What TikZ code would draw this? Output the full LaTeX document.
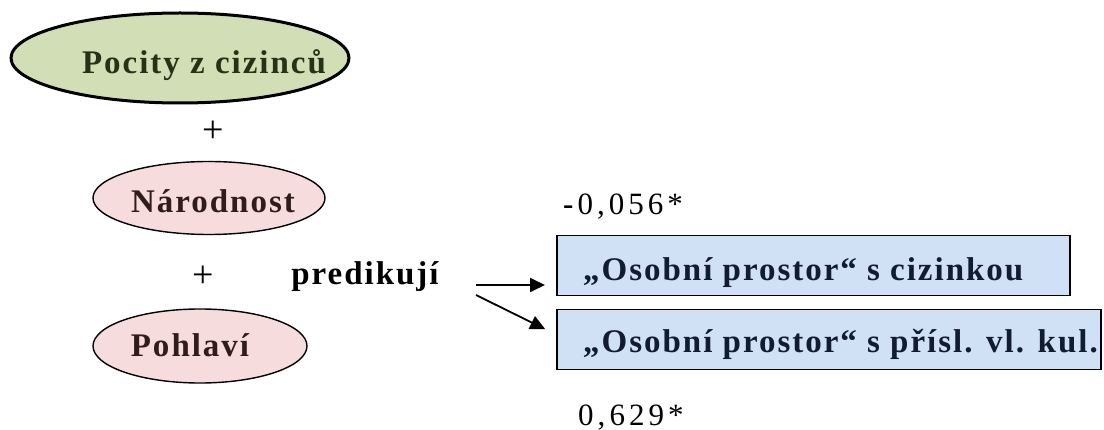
\documentclass[tikz,border=0pt]{standalone}
\usepackage{fontspec}
\setmainfont{Liberation Serif}
\newfontfamily\spaced[LetterSpace=6]{Liberation Serif}
\newfontfamily\numspaced[LetterSpace=13]{Liberation Serif}
\usetikzlibrary{shapes.geometric}
\usetikzlibrary{arrows.meta}
\definecolor{feelfill}{RGB}{210,223,182}
\definecolor{feeltext}{RGB}{38,50,22}
\definecolor{pinkfill}{RGB}{246,220,220}
\definecolor{pinktext}{RGB}{48,28,28}
\definecolor{bluefill}{RGB}{208,224,245}
\definecolor{bluetext}{RGB}{18,28,48}
\tikzset{feel/.style={ellipse, draw=black, line width=3pt, fill=feelfill, minimum width=338pt, minimum height=90pt, inner sep=0pt},
pred/.style={ellipse, draw=black, line width=1.4pt, fill=pinkfill, inner sep=0pt},
outbox/.style={rectangle, draw=black, line width=1.6pt, fill=bluefill, anchor=west, minimum height=60pt, inner xsep=0pt, inner ysep=0pt},
boldlab/.style={font=\spaced\bfseries\fontsize{33}{40}\selectfont, anchor=base, inner sep=0pt},
plain/.style={font=\numspaced\fontsize{31}{37}\selectfont, anchor=base, inner sep=0pt},
plus/.style={font=\fontsize{38}{44}\selectfont, anchor=base, inner sep=0pt},
arr/.style={-{Triangle[length=15pt,width=14pt]}, line width=1.8pt}}

\begin{document}
\begin{tikzpicture}[x=1pt,y=-1pt]
\useasboundingbox (0,0) rectangle (1104,430);
% predictors
\node[feel] (pocity) at (180,58) {};
\node[boldlab, text=feeltext] (pocitytext) at (204,74) {Pocity z cizinců};
\node[pred, minimum width=232pt, minimum height=73pt] (narod) at (209,198) {};
\node[boldlab, text=pinktext] (narodtext) at (213,213) {Národnost};
\node[pred, minimum width=214pt, minimum height=74pt] (pohl) at (200,346) {};
\node[boldlab, text=pinktext] (pohltext) at (190,357) {Pohlaví};

%labels
\node[plus] (plus1) at (213,143) {+};
\node[plus] (plus2) at (203,288) {+};
\node[boldlab] (predik) at (365,285) {predikují};

% outcomes
\node[outbox, minimum width=513pt] (ocizi) at (556,265.5) {};
\node[boldlab, anchor=base west, text=bluetext] (ocizitext) at (583,281) {„Osobní prostor“ s cizinkou};
\node[outbox, minimum width=544pt] (oprisl) at (556,339.5) {};
\node[boldlab, anchor=base west, text=bluetext] (oprisltext) at (583,353) {„Osobní prostor“ s přísl. vl. kul.};
\node[plain, anchor=base west] (coef1) at (563,215) {\textbf{-}0,056*};
\node[plain, anchor=base west] (coef2) at (578,425) {0,629*};

\coordinate (s1) at (476,285);
\coordinate (s2) at (476,295);
\draw[arr, shorten >=11pt] (s1) -- (s1 -| ocizi.west);
\draw[arr, shorten >=12pt] (s2) -- ([yshift=5pt]oprisl.west);
\end{tikzpicture}
\end{document}
